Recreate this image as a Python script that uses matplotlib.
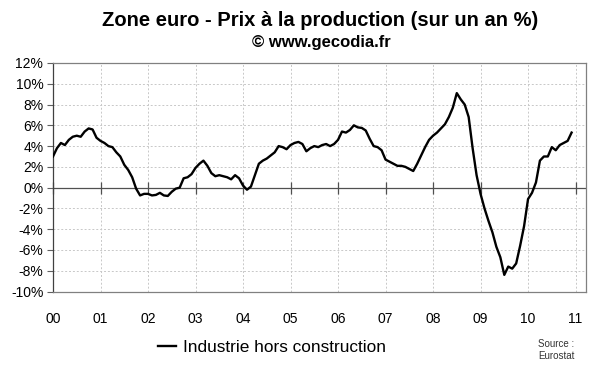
import numpy as np
import matplotlib.pyplot as plt

# Monthly year-on-year change of euro-area producer prices (%)
ppi_2000 = [3.0, 3.8, 4.3, 4.1, 4.6, 4.9, 5.0, 4.9, 5.4, 5.7, 5.6, 4.8]
ppi_2001 = [4.5, 4.3, 4.0, 3.9, 3.4, 3.0, 2.2, 1.7, 1.0, -0.1, -0.75, -0.6]
ppi_2002 = [-0.6, -0.75, -0.7, -0.5, -0.75, -0.8, -0.4, -0.1, 0.0, 0.9, 1.0, 1.3]
ppi_2003 = [1.9, 2.3, 2.6, 2.1, 1.4, 1.1, 1.2, 1.1, 1.0, 0.8, 1.2, 0.9]
ppi_2004 = [0.2, -0.2, 0.1, 1.2, 2.3, 2.6, 2.8, 3.1, 3.4, 4.0, 3.9, 3.7]
ppi_2005 = [4.1, 4.3, 4.4, 4.2, 3.5, 3.8, 4.0, 3.9, 4.1, 4.2, 4.0, 4.2]
ppi_2006 = [4.6, 5.4, 5.3, 5.55, 6.0, 5.8, 5.75, 5.5, 4.7, 4.0, 3.9, 3.6]
ppi_2007 = [2.7, 2.5, 2.3, 2.1, 2.1, 2.0, 1.8, 1.6, 2.3, 3.1, 3.9, 4.6]
ppi_2008 = [5.0, 5.3, 5.7, 6.1, 6.8, 7.7, 9.1, 8.5, 8.0, 6.8, 3.8, 1.2]
ppi_2009 = [-0.6, -2.0, -3.2, -4.3, -5.7, -6.7, -8.4, -7.6, -7.8, -7.3, -5.6, -3.7]
ppi_2010 = [-1.1, -0.5, 0.5, 2.6, 3.0, 3.0, 3.9, 3.6, 4.1, 4.3, 4.5, 5.3]

year_labels = ["00", "01", "02", "03", "04", "05", "06", "07", "08", "09", "10", "11"]
y_ticks = list(range(-10, 13, 2))

series_label = "Industrie hors construction"
title = "Zone euro - Prix à la production (sur un an %)"
subtitle = "© www.gecodia.fr"
source = "Source :\nEurostat"

plt.rcParams["font.family"] = ["Liberation Sans", "DejaVu Sans"]

values = np.concatenate([ppi_2000, ppi_2001, ppi_2002, ppi_2003, ppi_2004, ppi_2005,
                         ppi_2006, ppi_2007, ppi_2008, ppi_2009, ppi_2010])
dates = 2000 + np.arange(len(values)) / 12.0
year_pos = 2000 + np.arange(len(year_labels))

fig = plt.figure(figsize=(6.0, 3.72), dpi=100)
ax = fig.add_axes([53 / 600, 1 - 291.5 / 372, 533 / 600, 228.5 / 372])

grid_kw = dict(color="#c8c8c8", linestyle=(0, (2, 2)), linewidth=0.7, zorder=0)
for yv in y_ticks:
    if yv != 0:
        ax.axhline(yv, **grid_kw)
for xv in year_pos[1:]:
    ax.axvline(xv, **grid_kw)
ax.axhline(0, color="#505050", linewidth=0.9, zorder=1)

line, = ax.plot(dates, values, color="black", linewidth=1.7, zorder=3)

ax.set_xlim(2000, 2011.22)
ax.set_ylim(-10, 12)
ax.set_yticks(y_ticks)
ax.set_yticklabels([f"{v}%" for v in y_ticks], fontsize=10)
ax.set_xticks(year_pos)
ax.set_xticklabels(year_labels, fontsize=10)
ax.tick_params(axis="x", length=0, pad=15)
ax.tick_params(axis="y", length=4, width=0.8, color="#606060", pad=3)

for side in ["top", "right", "bottom"]:
    ax.spines[side].set_color("#808080")
    ax.spines[side].set_linewidth(0.9)
ax.spines["left"].set_color("#404040")
ax.spines["left"].set_linewidth(0.9)

# year tick marks sit on the zero line
sec = ax.secondary_xaxis(10 / 22)
sec.set_xticks(year_pos)
sec.set_xticklabels([])
sec.tick_params(direction="inout", length=8, width=0.9, color="#505050")
sec.spines["bottom"].set_visible(False)

fig.text(320 / 600, 1 - 20 / 372, title, ha="center", va="center",
         fontsize=14.5, fontweight="bold")
fig.text(321 / 600, 1 - 43 / 372, subtitle, ha="center", va="center",
         fontsize=12, fontweight="bold")

fig.legend([line], [series_label], loc="center", bbox_to_anchor=(272 / 600, 1 - 347 / 372),
           frameon=False, fontsize=12.4, handlelength=1.05, handletextpad=0.4)

fig.text(538 / 600, 1 - 350 / 372, source, ha="left", va="center",
         fontsize=7, color="#333333", linespacing=1.3)

fig.savefig("out.png", dpi=100)
